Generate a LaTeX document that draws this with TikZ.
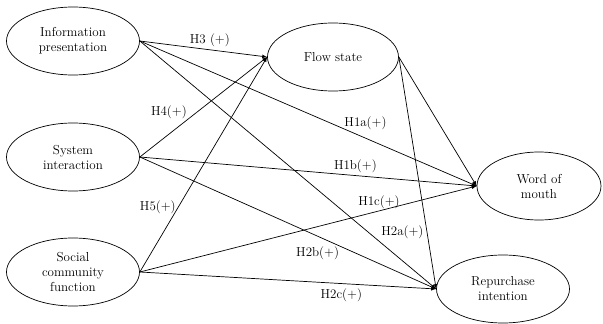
\documentclass[tikz,border=0pt]{standalone}
\usetikzlibrary{shapes.geometric}
\begin{document}
\begin{tikzpicture}[x=1pt,y=-1pt,>=latex,line width=0.7pt]
\tikzstyle{construct}=[ellipse,draw,minimum width=133pt,minimum height=68pt,inner sep=0pt,align=center,font=\fontsize{13}{15}\selectfont]
\tikzstyle{hyp}=[font=\fontsize{13}{15}\selectfont,inner sep=2pt]
\useasboundingbox (0,0) rectangle (603,324);

%get constructs.
\node[construct] (info)   at (73,41)  {Information\\presentation};
\node[construct] (system) at (73,157) {System\\interaction};
\node[construct] (social) at (73,272) {Social\\community\\function};
\node[construct,minimum width=131pt] (flow) at (333,57) {Flow state};
\node[construct,minimum width=124pt] (wom)  at (539,186) {Word of\\mouth};
\node[construct] (rep)    at (503,289) {Repurchase\\intention};

%paths into flow state.
\draw[->] (info.east) -- (flow.west) node[hyp, pos=0.55, above=1pt] {H3 (+)};
\draw[->] (system.east) -- (flow.west) node[hyp, pos=0.45, left=8pt] {H4(+)};
\draw[->] (social.east) -- (flow.west) node[hyp, pos=0.3, left] {H5(+)};

%paths into word of mouth.
\draw[->] (info.east) -- (wom.west) node[hyp, pos=0.67, above=6pt] {H1a(+)};
\draw[->] (system.east) -- (wom.west) node[hyp, pos=0.64, above] {H1b(+)};
\draw[->] (social.east) -- (wom.west) node[hyp, pos=0.71, above] {H1c(+)};
\draw[->] (flow.east) -- (wom.west);

%paths into repurchase.
\draw[->] (info.east) -- (rep.west) node[hyp, pos=0.77, right=11pt] {H2a(+)};
\draw[->] (system.east) -- (rep.west) node[hyp, pos=0.6, below=8pt] {H2b(+)};
\draw[->] (social.east) -- (rep.west) node[hyp, pos=0.68, below=3pt] {H2c(+)};
\draw[->] (flow.east) -- (rep.west);

\end{tikzpicture}
\end{document}
